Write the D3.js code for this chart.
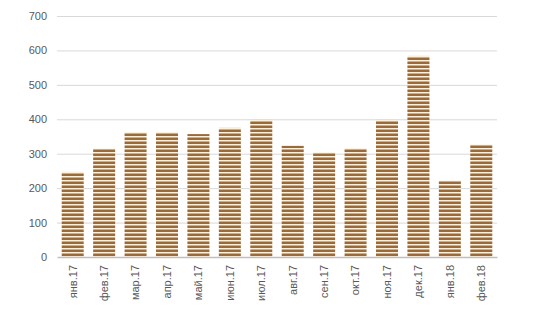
<!DOCTYPE html>
<html>
<head>
<meta charset="utf-8">
<script src="https://cdn.jsdelivr.net/npm/d3@7"></script>
<style>
  body { margin: 0; background: #fff; }
  svg { display: block; font-family: "Open Sans", "Noto Sans", sans-serif; }
  .axis text { fill: #595959; font-size: 11px; }
</style>
</head>
<body>
<svg width="541" height="310"></svg>
<script>
// monthly values
var months = ["янв.17", "фев.17", "мар.17", "апр.17", "май.17", "июн.17", "июл.17",
              "авг.17", "сен.17", "окт.17", "ноя.17", "дек.17", "янв.18", "фев.18"];
var values = [247, 315, 363, 363, 357, 375, 398, 323, 304, 316, 398, 584, 222, 327];
var yTicks = [0, 100, 200, 300, 400, 500, 600, 700];

const svg = d3.select("svg"),
    margin = {top: 16, right: 44, bottom: 53, left: 57},
    width = 541 - margin.left - margin.right,
    height = 310 - margin.top - margin.bottom;

var x = d3.scaleBand().domain(months).range([0, width]).paddingInner(0.3).paddingOuter(0.15),
    y = d3.scaleLinear().domain([0, 700]).range([height, 0]);

// striped fill
var pat = svg.append("defs").append("pattern")
    .attr("id", "stripes")
    .attr("patternUnits", "userSpaceOnUse")
    .attr("width", 8).attr("height", 4);
pat.append("rect").attr("width", 8).attr("height", 4).attr("fill", "#fdf1dc");
pat.append("rect").attr("y", 1.5).attr("width", 8).attr("height", 2.5).attr("fill", "#9b6a3b");

const g = svg.append("g")
    .attr("transform", "translate(" + margin.left + "," + margin.top + ")");

// gridlines
g.selectAll(".grid")
    .data(yTicks.slice(1))
    .enter().append("line")
    .attr("class", "grid")
    .attr("x1", 0).attr("x2", width)
    .attr("y1", function(d) { return y(d) + 0.5; })
    .attr("y2", function(d) { return y(d) + 0.5; })
    .attr("stroke", "#d9d9d9");

// y labels
var yAxis = g.append("g")
    .attr("class", "axis axis--y")
    .call(d3.axisLeft(y).tickValues(yTicks).tickSize(0).tickPadding(10));
yAxis.select(".domain").remove();

g.selectAll(".bar")
    .data(values)
    .enter().append("rect")
    .attr("class", "bar")
    .attr("x", function(d, i) { return x(months[i]); })
    .attr("width", x.bandwidth())
    .attr("y", function(d) { return y(d); })
    .attr("height", function(d) { return height - y(d); })
    .attr("fill", "url(#stripes)");

// x axis
var xAxis = g.append("g")
    .attr("class", "axis axis--x")
    .attr("transform", "translate(0," + height + ")")
    .call(d3.axisBottom(x).tickSize(0));
xAxis.select(".domain").attr("stroke", "#bfbfbf").attr("stroke-width", 1.5);
xAxis.selectAll("text")
    .attr("transform", "rotate(-90)")
    .attr("x", -8)
    .attr("y", 0)
    .attr("dy", "0.35em")
    .style("text-anchor", "end");
</script>
</body>
</html>
